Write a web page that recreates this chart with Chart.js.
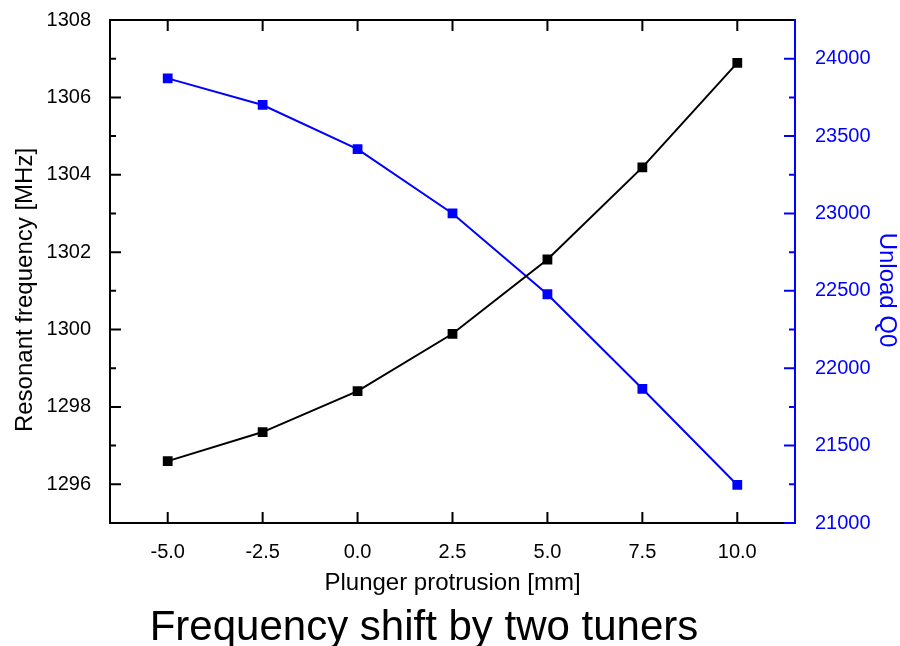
<!DOCTYPE html>
<html>
  <head>
    <script src="https://cdn.jsdelivr.net/npm/chart.js@4.4.1/dist/chart.umd.min.js"></script>
    <style>
      body { margin: 0; background: #fff; }
    </style>
  </head>

  <body>
    <canvas id="canvas" width="900" height="646"></canvas>
    <script>
      // plunger protrusion [mm]
      const protrusion = [-5.0, -2.5, 0.0, 2.5, 5.0, 7.5, 10.0];
      // resonant frequency [MHz], left axis
      const frequency = [1296.60, 1297.35, 1298.41, 1299.89, 1301.81, 1304.19, 1306.89];
      // unloaded Q0, right axis
      const unloadQ0 = [23873, 23701, 23416, 23000, 22478, 21867, 21246];

      const xTicks = [-5.0, -2.5, 0.0, 2.5, 5.0, 7.5, 10.0];
      const freqTicks = [1296, 1298, 1300, 1302, 1304, 1306, 1308];
      const freqMinor = [1297, 1299, 1301, 1303, 1305, 1307];
      const qTicks = [21000, 21500, 22000, 22500, 23000, 23500, 24000];
      const qMinor = [21250, 21750, 22250, 22750, 23250, 23750];

      const BLUE = '#0000ff';
      const FONT = 'Arial, "Liberation Sans", sans-serif';

      const setTicks = (values) => (scale) => {
        scale.ticks = values.map((v) => ({ value: v }));
      };
      const fixWidth = (w) => (scale) => {
        scale.width = w;
        scale.paddingTop = 0;
        scale.paddingBottom = 0;
      };

      // frame, inward ticks and titles, drawn the way the original plot has them
      const framePlugin = {
        id: 'frame',
        afterDraw(chart) {
          const { ctx, chartArea: a, scales } = chart;
          const major = 11, minor = 6;
          ctx.save();
          ctx.lineCap = 'butt';
          ctx.lineWidth = 2;

          ctx.strokeStyle = '#000';
          ctx.beginPath();
          ctx.moveTo(a.right, a.top); ctx.lineTo(a.left, a.top);
          ctx.lineTo(a.left, a.bottom); ctx.lineTo(a.right, a.bottom);
          xTicks.forEach((v) => {
            const px = scales.x.getPixelForValue(v);
            ctx.moveTo(px, a.bottom); ctx.lineTo(px, a.bottom - major);
            ctx.moveTo(px, a.top); ctx.lineTo(px, a.top + major);
          });
          freqTicks.forEach((v) => {
            const py = scales.y.getPixelForValue(v);
            ctx.moveTo(a.left, py); ctx.lineTo(a.left + major, py);
          });
          freqMinor.forEach((v) => {
            const py = scales.y.getPixelForValue(v);
            ctx.moveTo(a.left, py); ctx.lineTo(a.left + minor, py);
          });
          ctx.stroke();

          ctx.strokeStyle = BLUE;
          ctx.beginPath();
          ctx.moveTo(a.right, a.top - 1); ctx.lineTo(a.right, a.bottom + 1);
          qTicks.forEach((v) => {
            const py = scales.y2.getPixelForValue(v);
            ctx.moveTo(a.right, py); ctx.lineTo(a.right - major, py);
          });
          qMinor.forEach((v) => {
            const py = scales.y2.getPixelForValue(v);
            ctx.moveTo(a.right, py); ctx.lineTo(a.right - minor, py);
          });
          ctx.stroke();

          // axis titles
          ctx.textAlign = 'center';
          ctx.textBaseline = 'middle';
          ctx.font = '24px ' + FONT;
          ctx.fillStyle = '#000';
          ctx.fillText('Plunger protrusion [mm]', (a.left + a.right) / 2, 583);

          ctx.save();
          ctx.translate(25, 290);
          ctx.rotate(-Math.PI / 2);
          ctx.fillText('Resonant frequency [MHz]', 0, 0);
          ctx.restore();

          ctx.save();
          ctx.fillStyle = BLUE;
          ctx.translate(887, 290);
          ctx.rotate(Math.PI / 2);
          ctx.fillText('Unload Q0', 0, 0);
          ctx.restore();

          // caption under the plot
          ctx.font = '42px ' + FONT;
          ctx.textBaseline = 'alphabetic';
          ctx.fillStyle = '#000';
          ctx.fillText('Frequency shift by two tuners', 424, 640);
          ctx.restore();
        },
      };

      new Chart(document.getElementById('canvas'), {
        type: 'line',
        data: {
          datasets: [
            {
              label: 'Resonant frequency',
              data: protrusion.map((x, i) => ({ x, y: frequency[i] })),
              yAxisID: 'y',
              borderColor: '#000',
              backgroundColor: '#000',
              borderWidth: 2,
              pointStyle: 'rect',
              pointRadius: 5.5,
              tension: 0,
            },
            {
              label: 'Unload Q0',
              data: protrusion.map((x, i) => ({ x, y: unloadQ0[i] })),
              yAxisID: 'y2',
              borderColor: BLUE,
              backgroundColor: BLUE,
              borderWidth: 2,
              pointStyle: 'rect',
              pointRadius: 5.5,
              tension: 0,
            },
          ],
        },
        options: {
          responsive: false,
          animation: false,
          layout: { padding: { left: 0, right: 0, top: 20, bottom: 46 } },
          plugins: {
            legend: { display: false },
            tooltip: { enabled: false },
          },
          scales: {
            x: {
              type: 'linear',
              min: -6.52,
              max: 11.52,
              afterBuildTicks: setTicks(xTicks),
              afterFit: (s) => { s.height = 77; },
              grid: { display: false },
              border: { display: false },
              ticks: {
                padding: 9,
                color: '#000',
                font: { family: FONT, size: 20 },
                callback: (v) => v.toFixed(1),
              },
            },
            y: {
              position: 'left',
              min: 1295,
              max: 1308,
              afterBuildTicks: setTicks(freqTicks),
              afterFit: fixWidth(110),
              grid: { display: false },
              border: { display: false },
              ticks: {
                padding: 11,
                color: '#000',
                font: { family: FONT, size: 20 },
                callback: (v) => String(v),
              },
            },
            y2: {
              position: 'right',
              min: 21000,
              max: 24250,
              afterBuildTicks: setTicks(qTicks),
              afterFit: fixWidth(105),
              grid: { display: false },
              border: { display: false },
              ticks: {
                padding: 12,
                color: BLUE,
                font: { family: FONT, size: 20 },
                callback: (v) => String(v),
              },
            },
          },
        },
        plugins: [framePlugin],
      });
    </script>
  </body>
</html>
